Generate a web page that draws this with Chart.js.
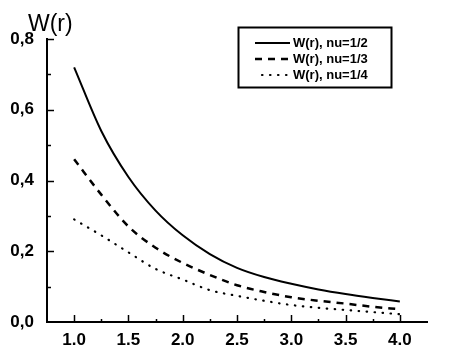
<!DOCTYPE html>
<html>
<head>
<meta charset="utf-8">
<script src="https://cdn.jsdelivr.net/npm/chart.js@4/dist/chart.umd.min.js"></script>
<style>
    html, body { margin: 0; padding: 0; background: #fff; }
    #wrap { width: 456px; height: 346px; position: relative; }
</style>
</head>
<body>
<div id="wrap"><canvas id="wChart"></canvas></div>
<script>
'use strict';

// ============================================================================
// Data
// ============================================================================

const rValues = [1.0, 1.25, 1.5, 1.75, 2.0, 2.25, 2.5, 2.75, 3.0, 3.25, 3.5, 3.75, 4.0];

const wHalf    = [0.72, 0.54, 0.41, 0.315, 0.245, 0.192, 0.153, 0.127, 0.108, 0.092, 0.079, 0.068, 0.058];
const wThird   = [0.46, 0.36, 0.27, 0.21, 0.167, 0.133, 0.104, 0.085, 0.070, 0.060, 0.052, 0.043, 0.036];
const wQuarter = [0.29, 0.245, 0.197, 0.15, 0.12, 0.09, 0.074, 0.06, 0.048, 0.04, 0.034, 0.028, 0.022];

const seriesLabels = ['W(r), nu=1/2', 'W(r), nu=1/3', 'W(r), nu=1/4'];

const xTickValues = [1.0, 1.5, 2.0, 2.5, 3.0, 3.5, 4.0];
const yTickValues = [0.0, 0.2, 0.4, 0.6, 0.8];

// ============================================================================
// Helpers
// ============================================================================

const INK = '#000';
const FONT_FAMILY = "'Liberation Sans', Arial, sans-serif";

function toPoints(ys) {
    return rValues.map((r, i) => ({ x: r, y: ys[i] }));
}

// Inward tick marks, plot title and boxed legend
const axisDecor = {
    id: 'axisDecor',
    afterDraw(chart) {
        const ctx = chart.ctx;
        const xs = chart.scales.x;
        const ys = chart.scales.y;
        const area = chart.chartArea;

        ctx.save();
        ctx.strokeStyle = INK;
        ctx.lineWidth = 1.5;

        // x ticks: majors every 0.5, minors in between
        for (let v = 1.0; v <= 4.001; v += 0.25) {
            const px = Math.round(xs.getPixelForValue(v)) + 0.5;
            const major = Math.abs((v * 2) - Math.round(v * 2)) < 1e-6;
            ctx.beginPath();
            ctx.moveTo(px, area.bottom);
            ctx.lineTo(px, area.bottom - (major ? 7 : 3));
            ctx.stroke();
        }

        // y ticks: majors every 0.2, minors every 0.1
        for (let k = 1; k <= 8; k++) {
            const v = k / 10;
            const py = Math.round(ys.getPixelForValue(v)) + 0.5;
            const major = k % 2 === 0;
            ctx.beginPath();
            ctx.moveTo(area.left, py);
            ctx.lineTo(area.left + (major ? 7 : 4), py);
            ctx.stroke();
        }

        // axis title
        ctx.fillStyle = INK;
        ctx.font = `23px ${FONT_FAMILY}`;
        ctx.textAlign = 'left';
        ctx.textBaseline = 'alphabetic';
        ctx.fillText('W(r)', 28, 31);

        // legend box
        const box = { left: 238.5, top: 27.5, width: 153, height: 60 };
        ctx.lineWidth = 2;
        ctx.strokeRect(box.left, box.top, box.width, box.height);

        ctx.font = `bold 13px ${FONT_FAMILY}`;
        ctx.textBaseline = 'middle';
        chart.data.datasets.forEach((ds, i) => {
            const y = 43 + i * 16;
            ctx.save();
            ctx.lineWidth = ds.borderWidth;
            ctx.setLineDash(ds.borderDash || []);
            ctx.lineCap = ds.borderCapStyle || 'butt';
            ctx.beginPath();
            ctx.moveTo(i === 2 ? 262 : 255, y);
            ctx.lineTo(290, y);
            ctx.stroke();
            ctx.restore();
            ctx.fillText(ds.label, 293, y);
        });

        ctx.restore();
    }
};

// ============================================================================
// Chart
// ============================================================================

function createWChart(canvasId) {
    const canvas = document.getElementById(canvasId);
    if (!canvas || typeof Chart === 'undefined') return;

    const tickFont = { family: FONT_FAMILY, size: 17, weight: 'bold' };

    return new Chart(canvas, {
        type: 'line',
        data: {
            datasets: [
                {
                    label: seriesLabels[0],
                    data: toPoints(wHalf),
                    borderColor: INK,
                    borderWidth: 2,
                    pointRadius: 0,
                    cubicInterpolationMode: 'monotone'
                },
                {
                    label: seriesLabels[1],
                    data: toPoints(wThird),
                    borderColor: INK,
                    borderWidth: 2.5,
                    borderDash: [7, 6],
                    pointRadius: 0,
                    cubicInterpolationMode: 'monotone'
                },
                {
                    label: seriesLabels[2],
                    data: toPoints(wQuarter),
                    borderColor: INK,
                    borderWidth: 2.2,
                    borderDash: [0.5, 7.5],
                    borderCapStyle: 'round',
                    pointRadius: 0,
                    cubicInterpolationMode: 'monotone'
                }
            ]
        },
        options: {
            responsive: true,
            maintainAspectRatio: false,
            animation: false,
            layout: {
                padding: { top: 39, right: 29, left: 0, bottom: 0 }
            },
            plugins: {
                legend: { display: false },
                tooltip: { enabled: false }
            },
            scales: {
                x: {
                    type: 'linear',
                    min: 0.75,
                    max: 4.25,
                    afterFit(scale) { scale.height = 24; },
                    afterBuildTicks(scale) {
                        scale.ticks = xTickValues.map(v => ({ value: v }));
                    },
                    grid: { display: false, drawTicks: false },
                    border: { display: true, color: INK, width: 2 },
                    ticks: {
                        color: INK,
                        font: tickFont,
                        padding: 8,
                        maxRotation: 0,
                        callback: v => v.toFixed(1)
                    }
                },
                y: {
                    min: 0,
                    max: 0.8,
                    afterFit(scale) { scale.width = 47; },
                    afterBuildTicks(scale) {
                        scale.ticks = yTickValues.map(v => ({ value: v }));
                    },
                    grid: { display: false, drawTicks: false },
                    border: { display: true, color: INK, width: 2 },
                    ticks: {
                        color: INK,
                        font: tickFont,
                        padding: 13,
                        callback: v => v.toFixed(1).replace('.', ',')
                    }
                }
            }
        },
        plugins: [axisDecor]
    });
}

createWChart('wChart');
</script>
</body>
</html>
